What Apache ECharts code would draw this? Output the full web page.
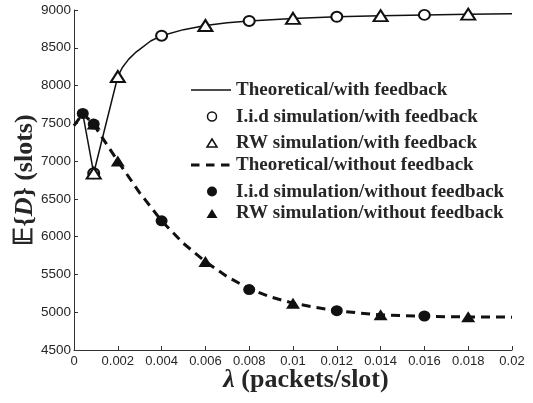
<!DOCTYPE html>
<html>
<head>
<meta charset="utf-8">
<script src="https://cdn.jsdelivr.net/npm/echarts@6/dist/echarts.min.js"></script>
<style>
  html, body { margin: 0; padding: 0; background: #fff; }
  #chart { width: 533px; height: 403px; }
</style>
</head>
<body>
<div id="chart"></div>
<script>
// Arrival rate (packets/slot) tick labels on the x axis
const xTicks = ['0', '0.002', '0.004', '0.006', '0.008', '0.01', '0.012', '0.014', '0.016', '0.018', '0.02'];
const yTicks = [4500, 5000, 5500, 6000, 6500, 7000, 7500, 8000, 8500, 9000];

const seriesNames = [
  'Theoretical/with feedback',
  'I.i.d simulation/with feedback',
  'RW simulation/with feedback',
  'Theoretical/without feedback',
  'I.i.d simulation/without feedback',
  'RW simulation/without feedback'
];

// Theoretical curve, with feedback
const theoryFbLambda = [0, 0.0004, 0.0009, 0.0012, 0.002, 0.0022, 0.0025, 0.0028, 0.003, 0.0035, 0.004, 0.005, 0.006, 0.007, 0.008, 0.009, 0.010, 0.012, 0.014, 0.016, 0.018, 0.020];
const theoryFbDelay  = [7470, 7630, 6840, 7190, 8120, 8235, 8350, 8435, 8480, 8590, 8660, 8740, 8795, 8830, 8855, 8872, 8887, 8910, 8925, 8935, 8945, 8950];

// Theoretical curve, without feedback
const theoryNoFbLambda = [0, 0.0004, 0.0009, 0.0012, 0.002, 0.003, 0.004, 0.005, 0.006, 0.007, 0.008, 0.009, 0.010, 0.011, 0.012, 0.013, 0.014, 0.016, 0.018, 0.020];
const theoryNoFbDelay  = [7470, 7630, 7490, 7350, 7000, 6580, 6210, 5910, 5670, 5470, 5310, 5200, 5120, 5065, 5020, 4990, 4965, 4945, 4938, 4935];

// Simulations, with feedback
const iidFbLambda = [0.0009, 0.004, 0.008, 0.012, 0.016];
const iidFbDelay  = [6840, 8660, 8855, 8910, 8935];
const rwFbLambda  = [0.0009, 0.002, 0.006, 0.010, 0.014, 0.018];
const rwFbDelay   = [6840, 8120, 8795, 8890, 8925, 8945];

// Simulations, without feedback
const iidNoFbLambda = [0.0004, 0.0009, 0.004, 0.008, 0.012, 0.016];
const iidNoFbDelay  = [7630, 7490, 6210, 5300, 5020, 4950];
const rwNoFbLambda  = [0.0009, 0.002, 0.006, 0.010, 0.014, 0.018];
const rwNoFbDelay   = [7490, 7000, 5670, 5120, 4965, 4940];

const zip = (xs, ys) => xs.map((x, i) => [x, ys[i]]);

const ink = '#111';
const textInk = '#262626';
const serif = '"Liberation Serif", "Times New Roman", serif';
const sans = '"Liberation Sans", Arial, sans-serif';

// Hand-placed legend: one row per series, key glyph on the left, label on the right
const legendRowsY = [90, 116.5, 142.5, 165, 191.5, 213];
const keyLeft = 191, keyRight = 231, keyMid = 211, labelLeft = 236;

function triPoints(cx, cy, w, h) {
  return [[cx, cy - h / 2], [cx + w / 2, cy + h / 2], [cx - w / 2, cy + h / 2]];
}

function legendKey(i, y) {
  switch (i) {
    case 0:
      return { type: 'line', shape: { x1: keyLeft, y1: y, x2: keyRight, y2: y },
               style: { stroke: ink, lineWidth: 1.5 } };
    case 1:
      return { type: 'circle', shape: { cx: keyMid + 1, cy: y, r: 4.5 },
               style: { fill: '#fff', stroke: ink, lineWidth: 1.5 } };
    case 2:
      return { type: 'polygon', shape: { points: triPoints(keyMid + 1, y + 0.5, 10, 8) },
               style: { fill: '#fff', stroke: ink, lineWidth: 1.5 } };
    case 3:
      return { type: 'line', shape: { x1: keyLeft, y1: y, x2: keyRight, y2: y },
               style: { stroke: ink, lineWidth: 3, lineDash: [8.5, 6.5] } };
    case 4:
      return { type: 'circle', shape: { cx: keyMid + 1, cy: y, r: 5 },
               style: { fill: ink } };
    default:
      return { type: 'polygon', shape: { points: triPoints(keyMid + 1, y + 0.5, 11, 9) },
               style: { fill: ink } };
  }
}

const legendGraphics = [];
seriesNames.forEach((name, i) => {
  const y = legendRowsY[i];
  legendGraphics.push(legendKey(i, y));
  legendGraphics.push({
    type: 'text', x: labelLeft, y: y + 0.5,
    style: { text: name, fill: textInk, font: 'bold 19px ' + serif, align: 'left', verticalAlign: 'middle' }
  });
});

const chart = echarts.init(document.getElementById('chart'), null, { renderer: 'canvas' });

chart.setOption({
  animation: false,
  backgroundColor: '#fff',
  grid: { left: 74, right: 21, top: 10, bottom: 53 },
  xAxis: {
    type: 'value',
    min: 0, max: 0.02, interval: 0.002,
    axisLine: { show: true, lineStyle: { color: '#333', width: 1 } },
    axisTick: { show: true, inside: true, length: 4, lineStyle: { color: '#333' } },
    splitLine: { show: false },
    axisLabel: {
      margin: 5, fontSize: 13, color: textInk, fontFamily: sans,
      formatter: (v) => xTicks[Math.round(v / 0.002)]
    }
  },
  yAxis: {
    type: 'value',
    min: yTicks[0], max: yTicks[yTicks.length - 1], interval: 500,
    axisLine: { show: true, lineStyle: { color: '#333', width: 1 } },
    axisTick: { show: true, inside: true, length: 4, lineStyle: { color: '#333' } },
    splitLine: { show: false },
    axisLabel: { margin: 3, fontSize: 13.5, color: textInk, fontFamily: sans,
                 formatter: (v) => String(v) }
  },
  graphic: [
    {
      type: 'text',
      x: 25, y: 180,
      rotation: Math.PI / 2,
      style: {
        text: '𝔼{{it|D}} (slots)',
        fill: textInk,
        font: 'bold 26px ' + serif,
        align: 'center', verticalAlign: 'middle',
        rich: {
          it: { fontStyle: 'italic', fontWeight: 'bold', fontSize: 26, fontFamily: serif, fill: textInk }
        }
      }
    },
    {
      type: 'text',
      x: 306, y: 380,
      style: {
        text: '{it|λ} (packets/slot)',
        fill: textInk,
        font: 'bold 26px ' + serif,
        align: 'center', verticalAlign: 'middle',
        rich: {
          it: { fontStyle: 'italic', fontWeight: 'bold', fontSize: 26, fontFamily: serif, fill: textInk }
        }
      }
    }
  ].concat(legendGraphics),
  series: [
    {
      name: seriesNames[0], type: 'line', data: zip(theoryFbLambda, theoryFbDelay),
      symbol: 'none', z: 2,
      lineStyle: { color: ink, width: 1.5 }, itemStyle: { color: ink }
    },
    {
      name: seriesNames[1], type: 'scatter', data: zip(iidFbLambda, iidFbDelay),
      symbol: 'emptyCircle', symbolSize: [11, 10], z: 4,
      itemStyle: { color: ink, borderColor: ink, borderWidth: 1.5, opacity: 1 }
    },
    {
      name: seriesNames[2], type: 'scatter', data: zip(rwFbLambda, rwFbDelay),
      symbol: 'emptyTriangle', symbolSize: [14, 11], z: 4,
      itemStyle: { color: ink, borderColor: ink, borderWidth: 1.5, opacity: 1 }
    },
    {
      name: seriesNames[3], type: 'line', data: zip(theoryNoFbLambda, theoryNoFbDelay),
      symbol: 'none', z: 2,
      lineStyle: { color: ink, width: 3, type: [9, 6] }, itemStyle: { color: ink }
    },
    {
      name: seriesNames[4], type: 'scatter', data: zip(iidNoFbLambda, iidNoFbDelay),
      symbol: 'circle', symbolSize: [12, 11], z: 5,
      itemStyle: { color: ink, opacity: 1 }
    },
    {
      name: seriesNames[5], type: 'scatter', data: zip(rwNoFbLambda, rwNoFbDelay),
      symbol: 'triangle', symbolSize: [14, 11], z: 5,
      itemStyle: { color: ink, opacity: 1 }
    }
  ]
});
</script>
</body>
</html>
